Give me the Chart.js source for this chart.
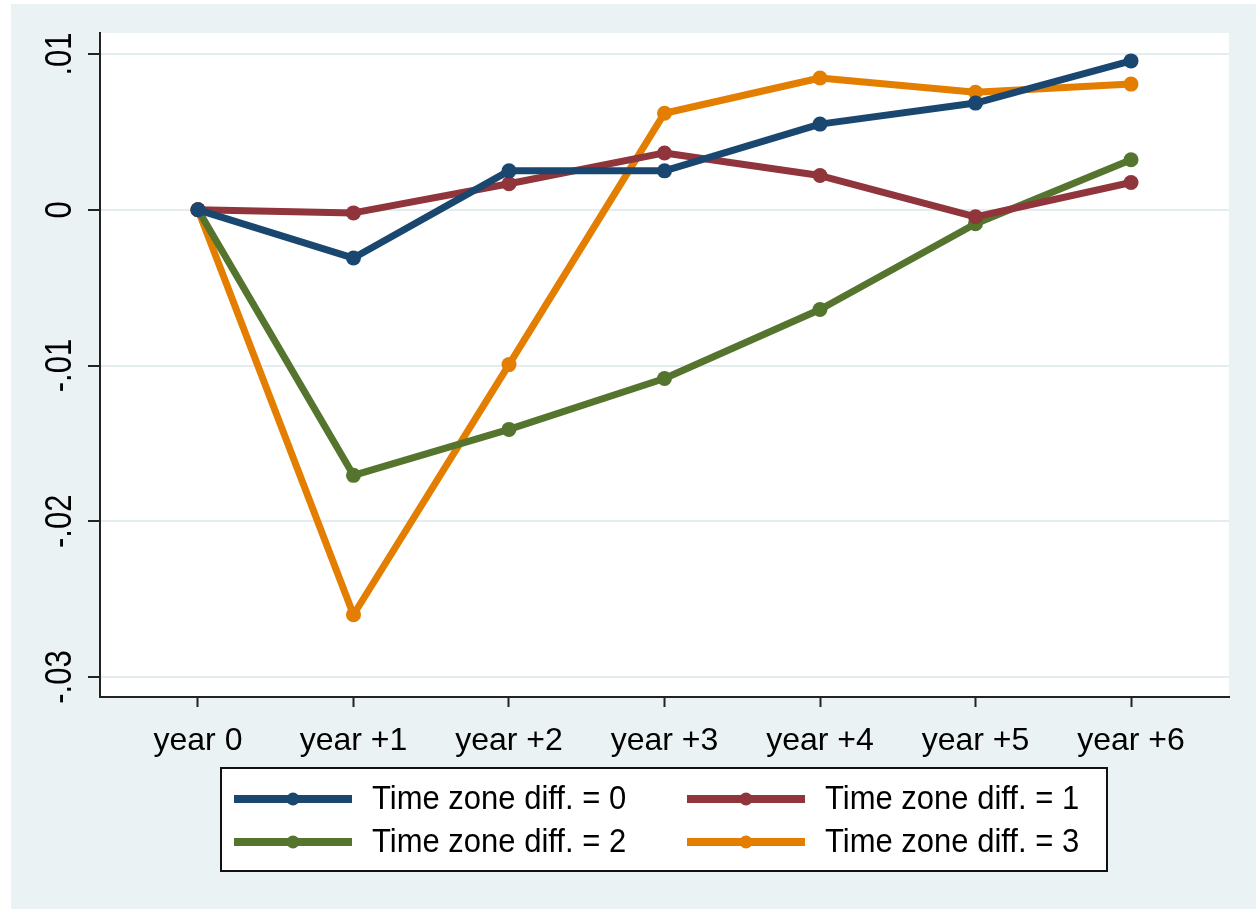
<!DOCTYPE html>
<html>
<head>
<meta charset="utf-8">
<script src="https://cdn.jsdelivr.net/npm/chart.js@4.4.1/dist/chart.umd.min.js"></script>
<style>
  html, body { margin: 0; padding: 0; background: #ffffff; }
  #wrap { width: 1256px; height: 909px; position: relative; }
</style>
</head>
<body>
<div id="wrap"><canvas id="c" width="1256" height="909"></canvas></div>
<script>
// ---- data ----
const categories = ["year 0", "year +1", "year +2", "year +3", "year +4", "year +5", "year +6"];
const seriesNames = ["Time zone diff. = 0", "Time zone diff. = 1", "Time zone diff. = 2", "Time zone diff. = 3"];
const tz0 = [0, -0.0031, 0.0025, 0.0025, 0.0055, 0.00685, 0.00956];
const tz1 = [0, -0.0002, 0.00167, 0.00365, 0.0022, -0.00045, 0.00175];
const tz2 = [0, -0.01705, -0.0141, -0.01083, -0.0064, -0.0009, 0.00321];
const tz3 = [0, -0.0260, -0.00994, 0.0062, 0.00846, 0.00755, 0.00807];
const yTickValues = [0.01, 0, -0.01, -0.02, -0.03];
const yTickLabels = [".01", "0", "-.01", "-.02", "-.03"];

const colors = ["#1a476f", "#90353b", "#55752f", "#e37e00"];
const FONT = "'Liberation Sans', Arial, sans-serif";

function toPts(arr) { return arr.map((v, i) => ({ x: i, y: v })); }
const allSeries = [tz0, tz1, tz2, tz3];

const datasets = allSeries.map((s, k) => ({
  label: seriesNames[k],
  data: toPts(s),
  borderColor: colors[k],
  backgroundColor: colors[k],
  borderWidth: 7,
  pointRadius: 7.5,
  pointHoverRadius: 7.5,
  pointBorderWidth: 0,
  tension: 0
}));

const bgPlugin = {
  id: 'bg',
  beforeDraw(chart) {
    const ctx = chart.ctx, a = chart.chartArea;
    ctx.save();
    ctx.fillStyle = '#ffffff';
    ctx.fillRect(0, 0, chart.width, chart.height);
    ctx.fillStyle = '#eaf2f3';
    ctx.fillRect(11, 4, chart.width - 11, chart.height - 4);
    ctx.fillStyle = '#ffffff';
    ctx.fillRect(a.left, a.top, a.right - a.left, a.bottom - a.top);
    ctx.restore();
  }
};

const yLabelPlugin = {
  id: 'ylabels',
  afterDraw(chart) {
    const ctx = chart.ctx, ys = chart.scales.y;
    ctx.save();
    ctx.fillStyle = '#000';
    ctx.font = "31px " + FONT;
    ctx.textAlign = 'center';
    ctx.textBaseline = 'middle';
    yTickValues.forEach((v, i) => {
      const py = ys.getPixelForValue(v);
      ctx.save();
      ctx.translate(61, py);
      ctx.rotate(-Math.PI / 2);
      ctx.scale(1, 1.2);
      ctx.fillText(yTickLabels[i], 0, 0);
      ctx.restore();
    });
    ctx.restore();
  }
};

const legendPlugin = {
  id: 'boxLegend',
  afterDraw(chart) {
    const ctx = chart.ctx;
    const box = { l: 221, t: 768, r: 1107, b: 871 };
    ctx.save();
    ctx.fillStyle = '#ffffff';
    ctx.fillRect(box.l, box.t, box.r - box.l, box.b - box.t);
    ctx.strokeStyle = '#111';
    ctx.lineWidth = 2;
    ctx.strokeRect(box.l, box.t, box.r - box.l, box.b - box.t);
    const colX = [{ ls: 234, le: 352, tx: 372 }, { ls: 687, le: 805, tx: 825 }];
    const rowY = [799, 842];
    chart.data.datasets.forEach((ds, k) => {
      const c = colX[k % 2], y = rowY[Math.floor(k / 2)];
      ctx.strokeStyle = ds.borderColor;
      ctx.lineWidth = 8;
      ctx.lineCap = 'butt';
      ctx.beginPath();
      ctx.moveTo(c.ls, y);
      ctx.lineTo(c.le, y);
      ctx.stroke();
      ctx.fillStyle = ds.borderColor;
      ctx.beginPath();
      ctx.arc((c.ls + c.le) / 2, y, 6.5, 0, Math.PI * 2);
      ctx.fill();
      ctx.fillStyle = '#000';
      ctx.save();
      ctx.font = "31px " + FONT;
      ctx.textAlign = 'left';
      ctx.textBaseline = 'middle';
      ctx.translate(c.tx, y + 1);
      ctx.scale(1, 1.08);
      ctx.fillText(ds.label, 0, 0);
      ctx.restore();
    });
    ctx.restore();
  }
};

new Chart(document.getElementById('c'), {
  type: 'line',
  data: { datasets },
  plugins: [bgPlugin, yLabelPlugin, legendPlugin],
  options: {
    responsive: false,
    animation: false,
    devicePixelRatio: 1,
    layout: { padding: { left: 0, top: 33, right: 27, bottom: 152 } },
    plugins: { legend: { display: false }, tooltip: { enabled: false } },
    elements: { line: { borderCapStyle: 'round', borderJoinStyle: 'round' } },
    scales: {
      x: {
        type: 'linear',
        min: -0.63,
        max: 6.63,
        afterBuildTicks(scale) { scale.ticks = categories.map((_, i) => ({ value: i })); },
        afterFit(scale) { scale.height = 60; },
        grid: { drawOnChartArea: false, drawTicks: true, tickLength: 10, tickColor: '#222', tickWidth: 2 },
        border: { display: true, color: '#222', width: 2 },
        ticks: {
          autoSkip: false,
          maxRotation: 0,
          minRotation: 0,
          padding: 15,
          color: '#000',
          font: { family: FONT, size: 32 },
          callback: (v) => categories[v]
        }
      },
      y: {
        type: 'linear',
        min: -0.03128,
        max: 0.01135,
        afterBuildTicks(scale) { scale.ticks = yTickValues.map(v => ({ value: v })); },
        afterFit(scale) { scale.width = 100; },
        grid: { color: '#e3ecef', lineWidth: 2, drawTicks: true, tickLength: 12, tickColor: '#222', tickWidth: 2 },
        border: { display: true, color: '#222', width: 2 },
        ticks: { display: false }
      }
    }
  }
});
</script>
</body>
</html>
